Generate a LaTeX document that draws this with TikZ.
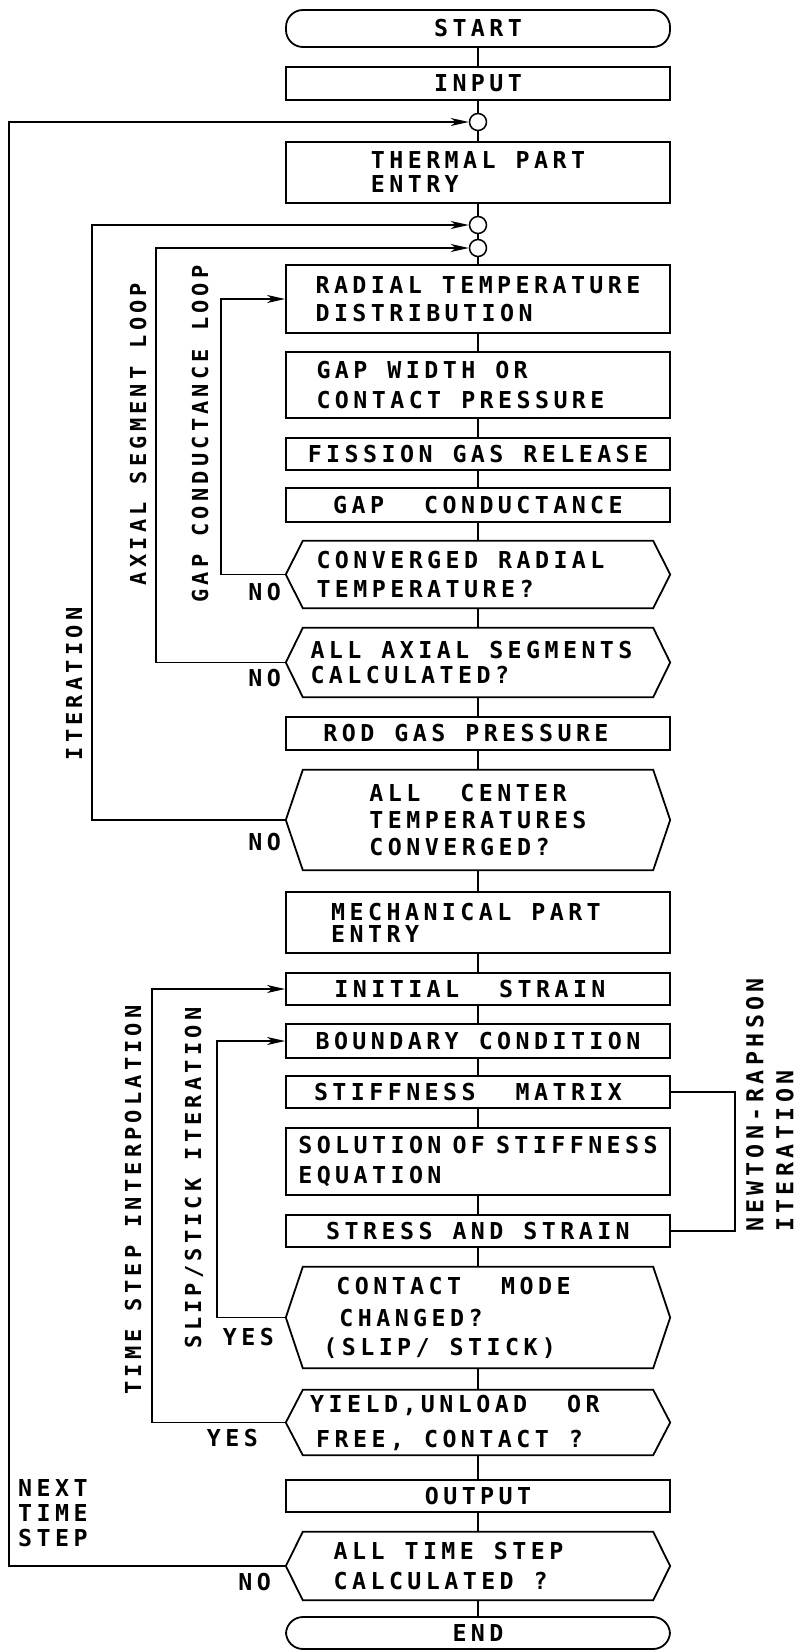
\documentclass[tikz,border=0pt]{standalone}
\usepackage{fontspec}
\usetikzlibrary{positioning, arrows.meta}
\newfontfamily\lettering{DejaVu Sans Mono}[LetterSpace=19]
\newcommand{\flowfont}{\lettering\bfseries\fontsize{23.3}{28}\selectfont\spaceskip=20pt\relax}
\newcommand{\loopfont}{\lettering\bfseries\fontsize{22}{26}\selectfont\spaceskip=18pt\relax}

\begin{document}
\begin{tikzpicture}[x=1pt, y=-1pt,
    flowline/.style={line width=1.5pt},
    arrowline/.style={flowline, -{Stealth[length=18pt, width=8pt, inset=5pt]}},
    process/.style={draw, rectangle, line width=1.8pt, minimum width=384pt,
        inner sep=0pt, align=left, font=\flowfont},
    terminal/.style={process, rounded corners=17pt},
    decision/.style={rectangle, minimum width=384pt, inner sep=0pt,
        align=left, font=\flowfont},
    junction/.style={draw, circle, line width=1.5pt, minimum size=17pt, inner sep=0pt},
    sidelabel/.style={font=\flowfont, inner sep=0pt},
    looplabel/.style={font=\loopfont, inner sep=0pt, rotate=90}
]
\useasboundingbox (0,0) rectangle (798,1652);

% main column
\node[terminal, minimum height=37pt] (start) at (478,28.5) {START};
\node[process, minimum height=33pt] (input) at (478,83.5) {INPUT};
\node[junction] (c1) at (478,122) {};
\node[process, minimum height=61pt] (thermal) at (478,172.5) {THERMAL PART\\[-4pt]ENTRY};
\node[junction] (c2) at (478,225) {};
\node[junction] (c3) at (478,248) {};
\node[process, minimum height=68pt] (radial) at (478,299) {RADIAL TEMPERATURE\\DISTRIBUTION};
\node[process, minimum height=66pt] (gapwidth) at (478,385) {GAP WIDTH OR\\[2pt]CONTACT PRESSURE\hspace*{35pt}};
\node[process, minimum height=32pt] (fission) at (478,454) {FISSION GAS RELEASE};
\node[process, minimum height=34pt] (gapcond) at (478,505) {GAP~ CONDUCTANCE};
\node[decision, minimum height=67pt] (conv) at (478,574.5) {CONVERGED RADIAL\hspace*{35pt}\\[1pt]TEMPERATURE?};
\node[decision, minimum height=69pt] (axial) at (478,662.5) {ALL AXIAL SEGMENTS\hspace*{13pt}\\[-3pt]CALCULATED?};
\node[process, minimum height=33pt] (rodgas) at (478,733.5) {ROD GAS PRESSURE\hspace*{24pt}};
\node[decision, minimum height=100pt] (center) at (478,820) {ALL~ CENTER\\[-1pt]TEMPERATURES\\[-1pt]CONVERGED?};
\node[process, minimum height=61pt] (mech) at (478,922.5) {MECHANICAL PART\hspace*{24pt}\\[-6pt]ENTRY};
\node[process, minimum height=32pt] (initial) at (478,989) {INITIAL~ STRAIN\hspace*{16pt}};
\node[process, minimum height=34pt] (boundary) at (478,1041) {BOUNDARY CONDITION};
\node[process, minimum height=32pt] (stiff) at (478,1092) {STIFFNESS~ MATRIX\hspace*{20pt}};
\node[process, minimum height=67pt] (solution) at (478,1161.5) {SOLUTION\hspace{11pt}OF\hspace{11pt}STIFFNESS\\[2pt]EQUATION};
\node[process, minimum height=32pt] (stress) at (478,1231) {STRESS AND STRAIN};
\node[decision, minimum height=101pt] (contact) at (478,1317.5) {\hspace*{13pt}CONTACT~ MODE\hspace*{62pt}\\[4pt]\hspace*{16pt}CHANGED?\\[1pt](SLIP/ STICK)};
\node[decision, minimum height=65pt] (yield) at (478,1422.5) {YIELD,UNLOAD~ OR\hspace*{46pt}\\[7pt]\hspace*{6pt}FREE, CONTACT ?};
\node[process, minimum height=32pt] (output) at (478,1496) {OUTPUT};
\node[decision, minimum height=68pt] (tstep) at (478,1566) {ALL TIME STEP\hspace*{59pt}\\[2pt]CALCULATED ?};
\node[terminal, minimum height=32pt] (finish) at (478,1633) {END};

% hexagon outlines of the decisions
\foreach \h in {conv, axial, center, contact, yield, tstep}
    \draw[line width=1.8pt] ([xshift=17pt]\h.north west) -- ([xshift=-17pt]\h.north east)
        -- (\h.east) -- ([xshift=-17pt]\h.south east)
        -- ([xshift=17pt]\h.south west) -- (\h.west) -- cycle;

\draw[flowline] (start) -- (input) -- (c1) -- (thermal) -- (c2) -- (c3) -- (radial)
    -- (gapwidth) -- (fission) -- (gapcond) -- (conv) -- (axial) -- (rodgas)
    -- (center) -- (mech) -- (initial) -- (boundary) -- (stiff) -- (solution)
    -- (stress) -- (contact) -- (yield) -- (output) -- (tstep) -- (finish);

% loops
\draw[arrowline] (conv.west) -- ++(-65,0) |- (radial.west);
\draw[arrowline] (axial.west) -- ++(-130,0) |- (c3.west);
\draw[arrowline] (center.west) -- ++(-194,0) |- (c2.west);
\draw[arrowline] (tstep.west) -- ++(-277,0) |- (c1.west);
\draw[arrowline] (yield.west) -- ++(-134,0) |- (initial.west);
\draw[arrowline] (contact.west) -- ++(-69,0) |- (boundary.west);
\draw[flowline] (stiff.east) -- ++(64,0) |- (stress.east);

% loop labels
\node[looplabel] (iterlabel) at (74,684) {ITERATION};
\node[looplabel] (axiallabel) at (138,434) {AXIAL SEGMENT LOOP};
\node[looplabel] (gaplabel) at (200,434) {GAP CONDUCTANCE LOOP};
\node[looplabel] (interplabel) at (133,1200) {TIME STEP INTERPOLATION};
\node[looplabel] (sliplabel) at (194,1178) {SLIP/STICK ITERATION};
\node[sidelabel, rotate=90, align=left] (newtonlabel) at (770,1105) {NEWTON-RAPHSON\\[2pt]ITERATION};
\node[sidelabel, align=left, anchor=west] (nextlabel) at (18,1513) {NEXT\\[-3pt]TIME\\[-3pt]STEP};

% answers
\node[sidelabel, anchor=east] (noconv) at (281,592) {NO};
\node[sidelabel, anchor=east] (noaxial) at (281,678) {NO};
\node[sidelabel, anchor=east] (nocenter) at (281,842) {NO};
\node[sidelabel, anchor=east] (yescontact) at (274,1337) {YES};
\node[sidelabel, anchor=east] (yesyield) at (258,1438) {YES};
\node[sidelabel, anchor=east] (notstep) at (271,1582) {NO};
\end{tikzpicture}
\end{document}
